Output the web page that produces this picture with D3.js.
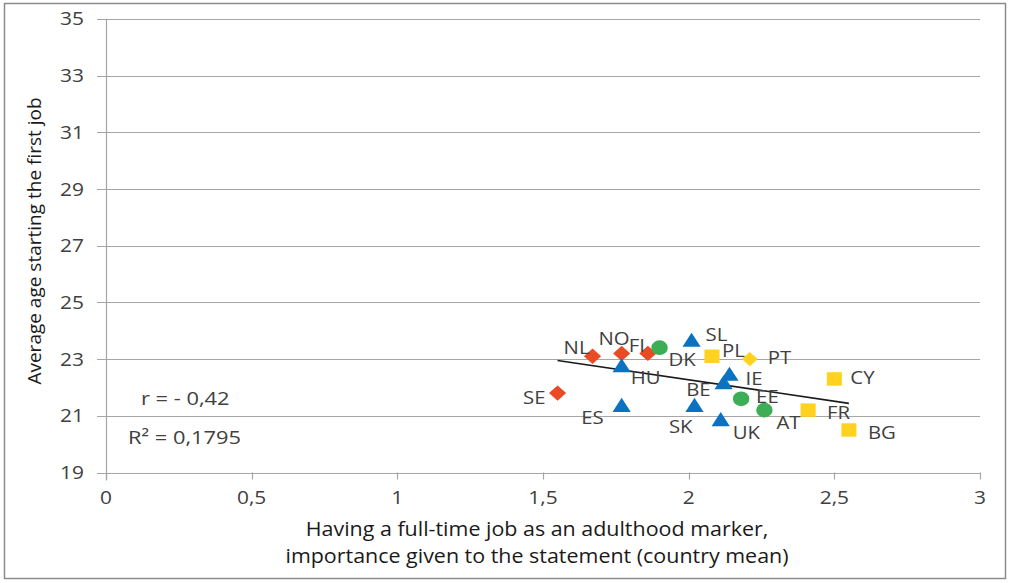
<!DOCTYPE html>
<html><head><meta charset="utf-8">
<script src="https://cdn.jsdelivr.net/npm/d3@7"></script>
<style>
body{margin:0;background:#fff;}
text{font-family:"Open Sans",sans-serif;}
</style></head>
<body><svg id="c" width="1009" height="583"></svg>
<script>
const countries = ["NL","NO","FI","SE","DK","EE","AT","SL","HU","ES","SK","BE","IE","UK","PL","PT","CY","FR","BG"];
const xValues   = [1.67,1.77,1.86,1.55,1.90,2.18,2.26,2.01,1.77,1.77,2.02,2.12,2.14,2.11,2.08,2.21,2.50,2.41,2.55];
const yValues   = [23.1,23.2,23.2,21.8,23.4,21.6,21.2,23.6,22.7,21.3,21.3,22.1,22.4,20.8,23.1,23.0,22.3,21.2,20.5];
const groups    = ["diamond","diamond","diamond","diamond","circle","circle","circle","triangle","triangle","triangle","triangle","triangle","triangle","triangle","square","ydiamond","square","square","square"];
const xTicks = [0,0.5,1,1.5,2,2.5,3];
const yTicks = [19,21,23,25,27,29,31,33,35];
const xTickLabels = ["0","0,5","1","1,5","2","2,5","3"];
const annotations = ["r = - 0,42","R² = 0,1795"];

// label placement (layout only): dx, dy from marker, anchor
const labelDx = {NL:-3,NO:8,FI:-3,SE:-12,DK:9,EE:15,AT:12,SL:14,HU:9,ES:-18,SK:-2,BE:-13,IE:16,UK:12,PL:10,PT:18,CY:16,FR:19,BG:19};
const labelDy = {NL:-9,NO:-15,FI:-8,SE:4,DK:12,EE:-2,AT:12,SL:-8,HU:10,ES:10,SK:19,BE:5,IE:2,UK:11,PL:-6,PT:-2,CY:-1,FR:2,BG:3};
const labelEnd = new Set(["NL","NO","FI","SE","ES","SK","BE"]);

const svg = d3.select("#c");
svg.append("rect").attr("x",4.5).attr("y",3.5).attr("width",1001).attr("height",575)
  .attr("fill","#fff").attr("stroke","#8c8c8c").attr("stroke-width",1.5);

const x = d3.scaleLinear().domain([0,3]).range([106,980]);
const y = d3.scaleLinear().domain([19,35]).range([472.5,18.8]);

function txt(g, t, px, py, opt){
  const s = opt.sx || 1;
  const el = g.append("text")
    .attr("transform", `translate(${px},${py})` + (opt.rot? ` rotate(${opt.rot})`:"") + ` scale(${s},1)`)
    .attr("text-anchor", opt.anchor || "start")
    .attr("dy", opt.dy || "0.35em")
    .attr("font-size", opt.size).attr("fill", opt.fill || "#404040").text(t);
  return el;
}

// gridlines
svg.append("g").selectAll("line").data(yTicks).join("line")
  .attr("x1",97).attr("x2",980).attr("y1",d=>Math.round(y(d))+0.5).attr("y2",d=>Math.round(y(d))+0.5)
  .attr("stroke","#a6a6a6").attr("stroke-width",1.2);
// y axis line
svg.append("line").attr("x1",106.5).attr("x2",106.5).attr("y1",y(35)).attr("y2",y(19)+8)
  .attr("stroke","#a6a6a6").attr("stroke-width",1.2);
// x ticks
svg.append("g").selectAll("line").data(xTicks).join("line")
  .attr("x1",d=>Math.round(x(d))+0.5).attr("x2",d=>Math.round(x(d))+0.5)
  .attr("y1",y(19)).attr("y2",y(19)+7).attr("stroke","#a6a6a6").attr("stroke-width",1.2);

const tg = svg.append("g");
yTicks.forEach(d=>txt(tg, String(d), 84, y(d), {size:19, sx:1.1, anchor:"end"}));
xTicks.forEach((d,i)=>txt(tg, xTickLabels[i], x(d), 497, {size:19, sx:1.1, anchor:"middle"}));

// axis titles
txt(svg, "Average age starting the first job", 34, 241, {size:19, sx:1.0, rot:-90, anchor:"middle", fill:"#1a1a1a"});
txt(svg, "Having a full-time job as an adulthood marker,", 537, 529, {size:19.5, sx:1.1, anchor:"middle", fill:"#1a1a1a"});
txt(svg, "importance given to the statement (country mean)", 537, 556, {size:19.5, sx:1.1, anchor:"middle", fill:"#1a1a1a"});

// annotations
txt(svg, annotations[0], 141, 398, {size:19, sx:1.15});
txt(svg, annotations[1], 128, 437, {size:19, sx:1.15});

// trendline (least squares)
const n = xValues.length;
const mx = d3.mean(xValues), my = d3.mean(yValues);
let sxy=0,sxx=0;
for(let i=0;i<n;i++){sxy+=(xValues[i]-mx)*(yValues[i]-my);sxx+=(xValues[i]-mx)**2;}
const slope = sxy/sxx, icpt = my - slope*mx;
const [xmin,xmax] = d3.extent(xValues);
svg.append("line").attr("x1",x(xmin)).attr("y1",y(icpt+slope*xmin))
  .attr("x2",x(xmax)).attr("y2",y(icpt+slope*xmax)).attr("stroke","#1a1a1a").attr("stroke-width",1.6);

// markers
const style = {
  diamond:{sym:d3.symbolDiamond2, size:150, color:"#EA4A24"},
  ydiamond:{sym:d3.symbolDiamond2, size:130, color:"#FFD21F"},
  circle:{sym:d3.symbolCircle, size:170, color:"#3DAE55"},
  triangle:{sym:d3.symbolTriangle2, size:190, color:"#0A72C0"},
  square:{sym:d3.symbolSquare2, size:230, color:"#FFD21F"}
};
const pts = countries.map((c,i)=>({c, x:xValues[i], y:yValues[i], g:groups[i]}));
svg.append("g").selectAll("path").data(pts).join("path")
  .attr("transform",d=>`translate(${x(d.x)},${y(d.y)}) scale(1.12,1)`)
  .attr("d",d=>d3.symbol(style[d.g].sym, style[d.g].size)())
  .attr("fill",d=>style[d.g].color);

const lg = svg.append("g");
pts.forEach(d=>txt(lg, d.c, x(d.x)+labelDx[d.c], y(d.y)+labelDy[d.c],
  {size:18.5, sx:1.1, anchor: labelEnd.has(d.c)?"end":"start"}));
</script></body></html>
